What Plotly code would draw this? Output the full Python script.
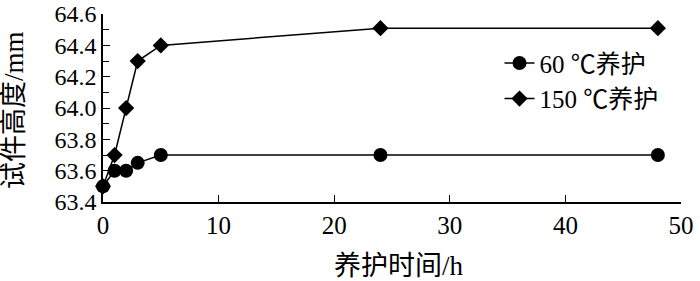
import plotly.graph_objects as go

time_h = [0, 1, 2, 3, 5, 24, 48]
h_60 = [63.5, 63.6, 63.6, 63.65, 63.7, 63.7, 63.7]
h_150 = [63.5, 63.7, 64.0, 64.3, 64.4, 64.51, 64.51]
names = ["60 ℃养护", "150 ℃养护"]
x_ticks = [0, 10, 20, 30, 40, 50]
y_ticks = [63.4, 63.6, 63.8, 64.0, 64.2, 64.4, 64.6]
x_title = "养护时间/h"
y_title = "试件高度/mm"

FONT = "Liberation Serif, Times New Roman, Noto Sans CJK SC, serif"
FS = 24
TFS = 27

fig = go.Figure()
fig.add_trace(go.Scatter(x=time_h, y=h_60, mode="lines+markers", name=names[0],
                         cliponaxis=False,
                         line=dict(color="black", width=1.5),
                         marker=dict(symbol="circle", size=14, color="black")))
fig.add_trace(go.Scatter(x=time_h, y=h_150, mode="lines+markers", name=names[1],
                         cliponaxis=False,
                         line=dict(color="black", width=1.5),
                         marker=dict(symbol="diamond", size=12.5, color="black")))

fig.add_annotation(text=x_title, xref="paper", yref="paper", x=0.5, y=0,
                   xshift=7, yshift=-64, xanchor="center", yanchor="middle", showarrow=False,
                   font=dict(family=FONT, size=TFS, color="black"))
fig.add_annotation(text=y_title, xref="paper", yref="paper", x=0, y=0.49,
                   xshift=-89, xanchor="center", yanchor="middle", showarrow=False,
                   textangle=-90, font=dict(family=FONT, size=TFS, color="black"))

fig.update_layout(
    width=700, height=281,
    margin=dict(l=103, r=19, t=14, b=79),
    paper_bgcolor="white", plot_bgcolor="white",
    font=dict(family=FONT, size=FS, color="black"),
    showlegend=True,
    legend=dict(x=0.686, y=0.86, xanchor="left", yanchor="top",
                bgcolor="rgba(0,0,0,0)", font=dict(size=25, family=FONT),
                tracegroupgap=0),
    xaxis=dict(range=[0, 50], tickvals=x_ticks, showgrid=False, zeroline=False,
               automargin=False, ticklabeloverflow="allow",
               showline=True, linecolor="black", linewidth=1.5,
               ticks="inside", ticklen=7, tickwidth=1.2, tickcolor="black",
               tickfont=dict(size=25)),
    yaxis=dict(range=[63.4, 64.6005], tickvals=y_ticks, tickformat=".1f",
               showgrid=False, zeroline=False, automargin=False,
               ticklabeloverflow="allow",
               showline=True, linecolor="black", linewidth=1.5,
               ticks="inside", ticklen=7, tickwidth=1.2, tickcolor="black",
               tickfont=dict(size=FS),
               minor=dict(dtick=0.1, tick0=63.4, ticks="inside", ticklen=6, tickwidth=1.2,
                          tickcolor="black", showgrid=False)),
)

fig.write_html("out.html", config={"displayModeBar": False},
               post_script="document.body.style.margin='0';")
